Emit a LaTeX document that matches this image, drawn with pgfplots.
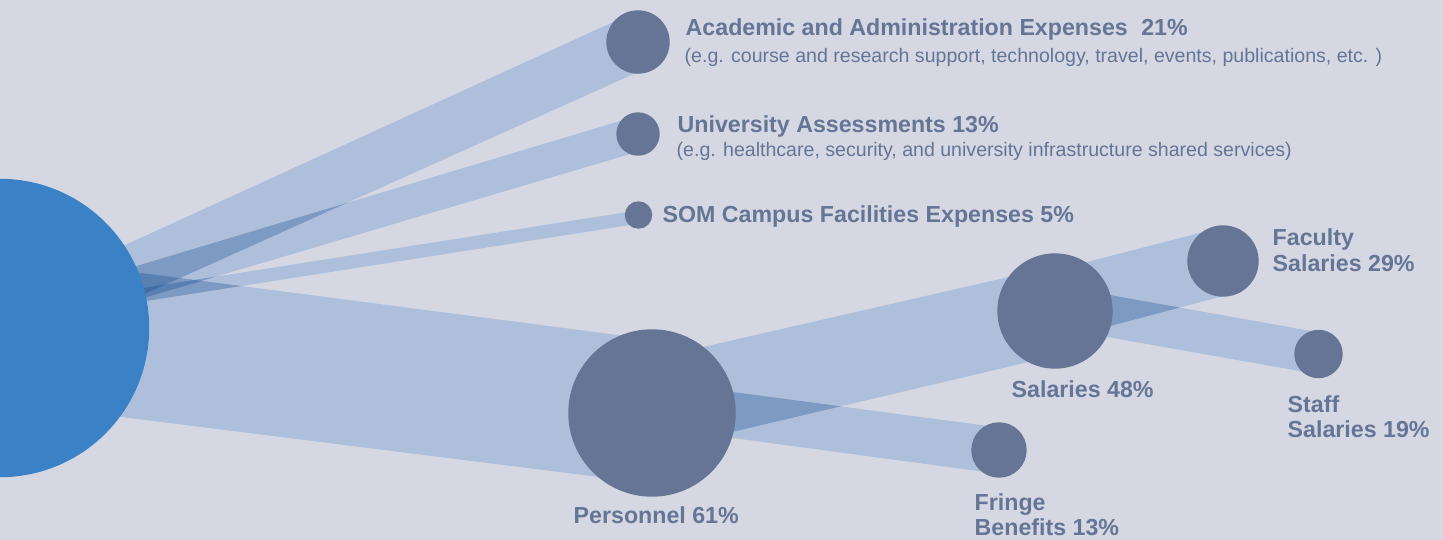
\documentclass[border=0pt]{standalone}
\usepackage{pgfplots}
\usepackage{pgfplotstable}
\pgfplotsset{compat=1.18}
\usepackage{fontspec}
\setmainfont{Liberation Sans}
\definecolor{bgc}{RGB}{213,216,227}
\definecolor{bandL}{RGB}{245,245,254}
\definecolor{bandD}{RGB}{12,69,140}
\definecolor{nodec}{RGB}{102,117,149}
\definecolor{rootc}{RGB}{58,130,197}
\definecolor{txtc}{RGB}{100,117,150}
\tikzset{lbl/.style={anchor=base west, inner sep=0pt, text=txtc, font=\bfseries\fontsize{6.6}{7.4}\selectfont},
         sub/.style={anchor=base west, inner sep=0pt, text=txtc, font=\fontsize{5.57}{6.5}\selectfont}}
\pgfplotsset{baseband/.style={draw=none, fill=bandL, no markers},
             shadeband/.style={draw=none, fill=bandD, fill opacity=0.3, no markers}}
% bands: polygon corners in pixel coordinates (y downwards)
\pgfplotstableread{
x y
60 274.7
638 10.6
638 72.1
60 332.0
}\bandAcad
\pgfplotstableread{
x y
60 289.0
638 115.6
638 151.8
60 322.8
}\bandUniv
\pgfplotstableread{
x y
60 301.0
638 210.3
638 223.8
60 314.5
}\bandSOM
\pgfplotstableread{
x y
60 262.4
652 339.4
652 483.8
60 409.2
}\bandPers
\pgfplotstableread{
x y
652 358.7
1055 266.3
1055 355.8
652 450.9
}\bandSal
\pgfplotstableread{
x y
652 381.2
999 427.4
999 473.9
652 427.1
}\bandFringe
\pgfplotstableread{
x y
1055 270.2
1223 226.9
1223 296.1
1055 340.6
}\bandFac
\pgfplotstableread{
x y
1055 285.2
1318 332.2
1318 374.3
1055 327.8
}\bandStaff
\begin{document}
\begin{tikzpicture}
\fill[bgc] (0,0) rectangle (14.43cm,5.4cm);
\begin{axis}[at={(0,0)}, anchor=south west, width=14.43cm, height=5.4cm, scale only axis,
  xmin=0, xmax=1443, ymin=0, ymax=540, y dir=reverse, hide axis, clip marker paths=true]
% base layer (opaque)
\addplot[baseband] table {\bandAcad};
\addplot[baseband] table {\bandUniv};
\addplot[baseband] table {\bandSOM};
\addplot[baseband] table {\bandPers};
\addplot[baseband] table {\bandSal};
\addplot[baseband] table {\bandFringe};
\addplot[baseband] table {\bandFac};
\addplot[baseband] table {\bandStaff};
% shading layer (overlaps darken)
\addplot[shadeband] table {\bandAcad};
\addplot[shadeband] table {\bandUniv};
\addplot[shadeband] table {\bandSOM};
\addplot[shadeband] table {\bandPers};
\addplot[shadeband] table {\bandSal};
\addplot[shadeband] table {\bandFringe};
\addplot[shadeband] table {\bandFac};
\addplot[shadeband] table {\bandStaff};
% root node
\addplot[scatter, only marks, mark=*,
  scatter/use mapped color={draw=rootc, fill=rootc},
  visualization depends on={value \thisrow{r}\as\rad},
  scatter/@pre marker code/.append style={/tikz/mark size=0.28453*\rad}] table {
x y r
0 328 148.5
};
% other nodes
\addplot[scatter, only marks, mark=*,
  scatter/use mapped color={draw=nodec, fill=nodec},
  visualization depends on={value \thisrow{r}\as\rad},
  scatter/@pre marker code/.append style={/tikz/mark size=0.28453*\rad}] table {
x y r
638 42 31
638 134 21
638.5 215 13
652 413 83
999 450 27
1055 311 57
1223 261 35
1318.5 354 23.5
};
\node[lbl] at (axis cs:685,35) {Academic and Administration Expenses\hspace{2pt} 21\%};
\node[sub] at (axis cs:684,62) {(e.g. course and research support, technology, travel, events, publications, etc. )};
\node[lbl] at (axis cs:677,132) {University Assessments 13\%};
\node[sub] at (axis cs:676,156) {(e.g. healthcare, security, and university infrastructure shared services)};
\node[lbl] at (axis cs:662,222) {SOM Campus Facilities Expenses 5\%};
\node[lbl] at (axis cs:1272,245) {Faculty};
\node[lbl] at (axis cs:1272,271) {Salaries 29\%};
\node[lbl] at (axis cs:1011,397) {Salaries 48\%};
\node[lbl] at (axis cs:1287,412) {Staff};
\node[lbl] at (axis cs:1287,437) {Salaries 19\%};
\node[lbl] at (axis cs:573,523) {Personnel 61\%};
\node[lbl] at (axis cs:974,510) {Fringe};
\node[lbl] at (axis cs:974,535) {Benefits 13\%};
\end{axis}
\pgfresetboundingbox
\path (0,0) rectangle (14.43cm,5.4cm);
\end{tikzpicture}
\end{document}
